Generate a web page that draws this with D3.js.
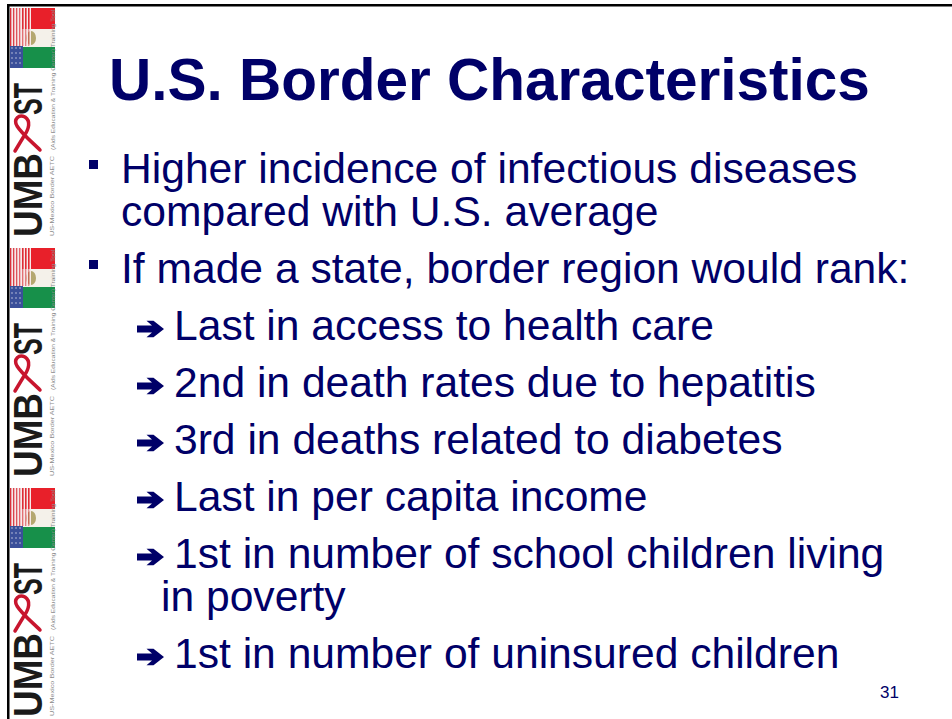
<!DOCTYPE html>
<html><head><meta charset="utf-8">
<script src="https://cdn.jsdelivr.net/npm/d3@7/dist/d3.min.js"></script>
<style>html,body{margin:0;padding:0;background:#fff;}svg{display:block;}</style>
</head><body>
<script>
// ---- content ----
const titleText = "U.S. Border Characteristics";
const mainBullets = [
  ["Higher incidence of infectious diseases", "compared with U.S. average"],
  ["If made a state, border region would rank:"]
];
const subBullets = [
  ["Last in access to health care"],
  ["2nd in death rates due to hepatitis"],
  ["3rd in deaths related to diabetes"],
  ["Last in per capita income"],
  ["1st in number of school children living", "in poverty"],
  ["1st in number of uninsured children"]
];
const pageNumber = "31";
const logoRepeats = [0, 1, 2];
const logoWordTop = "ST";
const logoWordBottom = "UMB";
const logoSmallText = ["US-Mexico Border AETC", "(Aids Education & Training Center) Training Tool"];

// ---- drawing ----
const W = 952, H = 719;
const navy = "#000068";
const font = "'Liberation Sans', Arial, sans-serif";
const svg = d3.select("body").append("svg").attr("width", W).attr("height", H);
svg.append("rect").attr("width", W).attr("height", H).attr("fill", "#fff");

// frame lines
svg.append("rect").attr("x", 7).attr("y", 4).attr("width", W - 7).attr("height", 2.5).attr("fill", "#000");
svg.append("rect").attr("x", 7).attr("y", 4).attr("width", 2.5).attr("height", H - 4).attr("fill", "#000");

// logo strip
const blockY = d3.scaleLinear().domain([0, 1]).range([0, 240]);
const logos = svg.selectAll("g.logo").data(logoRepeats).join("g")
  .attr("class", "logo").attr("transform", d => `translate(0,${blockY(d)})`);

// Mexican flag part
logos.append("rect").attr("x", 22).attr("y", 8).attr("width", 33).attr("height", 21).attr("fill", "#e8202a");
logos.append("rect").attr("x", 22).attr("y", 29).attr("width", 33).attr("height", 18).attr("fill", "#f4f1ea");
logos.append("rect").attr("x", 22).attr("y", 47).attr("width", 33).attr("height", 21).attr("fill", "#17904a");
logos.append("ellipse").attr("cx", 31).attr("cy", 38).attr("rx", 5).attr("ry", 7).attr("fill", "#a89a5a").attr("opacity", 0.85);
// US part: vertical stripes
const stripes = d3.range(0, 7);
logos.selectAll("rect.stripe").data(stripes).join("rect").attr("class", "stripe")
  .attr("x", d => 10 + d * 3).attr("y", 8).attr("width", 1.6).attr("height", 38)
  .attr("fill", "#d8323c").attr("opacity", d => 1 - d * 0.08);
logos.selectAll("rect.wstripe").data(stripes).join("rect").attr("class", "wstripe")
  .attr("x", d => 11.6 + d * 3).attr("y", 8).attr("width", 1.4).attr("height", 38)
  .attr("fill", "#f6e8e8");
logos.append("rect").attr("x", 10).attr("y", 46).attr("width", 13).attr("height", 22).attr("fill", "#3a4f9a");
logos.selectAll("circle.star").data(d3.range(0, 12)).join("circle").attr("class", "star")
  .attr("cx", d => 12 + (d % 3) * 4).attr("cy", d => 48 + Math.floor(d / 3) * 5).attr("r", 0.7).attr("fill", "#dde");

// rotated logo words
logos.append("text").attr("transform", "translate(42,237) rotate(-90)")
  .attr("font-family", font).attr("font-weight", "bold").attr("font-size", 40)
  .attr("textLength", 84).attr("lengthAdjust", "spacingAndGlyphs").attr("fill", "#1a1a1a")
  .text(logoWordBottom);
logos.append("text").attr("transform", "translate(42,115) rotate(-90)")
  .attr("font-family", font).attr("font-weight", "bold").attr("font-size", 40)
  .attr("textLength", 32).attr("lengthAdjust", "spacingAndGlyphs").attr("fill", "#1a1a1a")
  .text(logoWordTop);
// ribbon
logos.append("path")
  .attr("d", "M40,150 C32,142 22,134 17,126 C13,119 19,114 25,117 C31,121 29,129 24,136 C21,141 18,146 15,151")
  .attr("fill", "none").attr("stroke", "#c8152e").attr("stroke-width", 3.5).attr("stroke-linecap", "round");
// tiny texts
logos.append("text").attr("transform", "translate(54,236) rotate(-90)")
  .attr("font-family", font).attr("font-size", 5).attr("fill", "#8a8a8a")
  .attr("textLength", 80).attr("lengthAdjust", "spacingAndGlyphs").text(logoSmallText[0]);
logos.append("text").attr("transform", "translate(55,150) rotate(-90)")
  .attr("font-family", font).attr("font-size", 5).attr("fill", "#8a8a8a")
  .attr("textLength", 140).attr("lengthAdjust", "spacingAndGlyphs").text(logoSmallText[1]);

// title
svg.append("text").attr("x", 109).attr("y", 100)
  .attr("font-family", font).attr("font-weight", "bold").attr("font-size", 58.5)
  .attr("fill", navy).text(titleText);

// body layout
const lines = [];
let para = 0, li = 0;
mainBullets.forEach(b => { b.forEach((t, k) => lines.push({ t, lvl: 1, first: k === 0, li: li++, para })); para++; });
subBullets.forEach(b => { b.forEach((t, k) => lines.push({ t, lvl: 2, first: k === 0, li: li++, para })); para++; });
const lineH = 43, paraGap = 14, y0 = 183;
const yOf = d => y0 + d.li * lineH + d.para * paraGap;
const xText = d3.scaleOrdinal().domain(["1true", "1false", "2true", "2false"]).range([121, 121, 174, 161]);

svg.selectAll("text.body").data(lines).join("text").attr("class", "body")
  .attr("x", d => xText(d.lvl + "" + d.first)).attr("y", yOf)
  .attr("font-family", font).attr("font-size", 42.6).attr("fill", navy)
  .text(d => d.t);

// square bullets
svg.selectAll("rect.bul").data(lines.filter(d => d.lvl === 1 && d.first)).join("rect").attr("class", "bul")
  .attr("x", 89).attr("y", d => yOf(d) - 23).attr("width", 9).attr("height", 9).attr("fill", navy);

// arrow bullets
const arrowPath = "M0,-3.4 L15,-3.4 L9.5,-8.2 L16.5,-8.2 L27,0 L16.5,8.2 L9.5,8.2 L15,3.4 L0,3.4 Z";
svg.selectAll("path.arr").data(lines.filter(d => d.lvl === 2 && d.first)).join("path").attr("class", "arr")
  .attr("transform", d => `translate(137,${yOf(d) - 11})`).attr("d", arrowPath).attr("fill", navy);

// page number
svg.append("text").attr("x", 880).attr("y", 698)
  .attr("font-family", font).attr("font-size", 17).attr("fill", navy).text(pageNumber);
</script>
</body></html>
